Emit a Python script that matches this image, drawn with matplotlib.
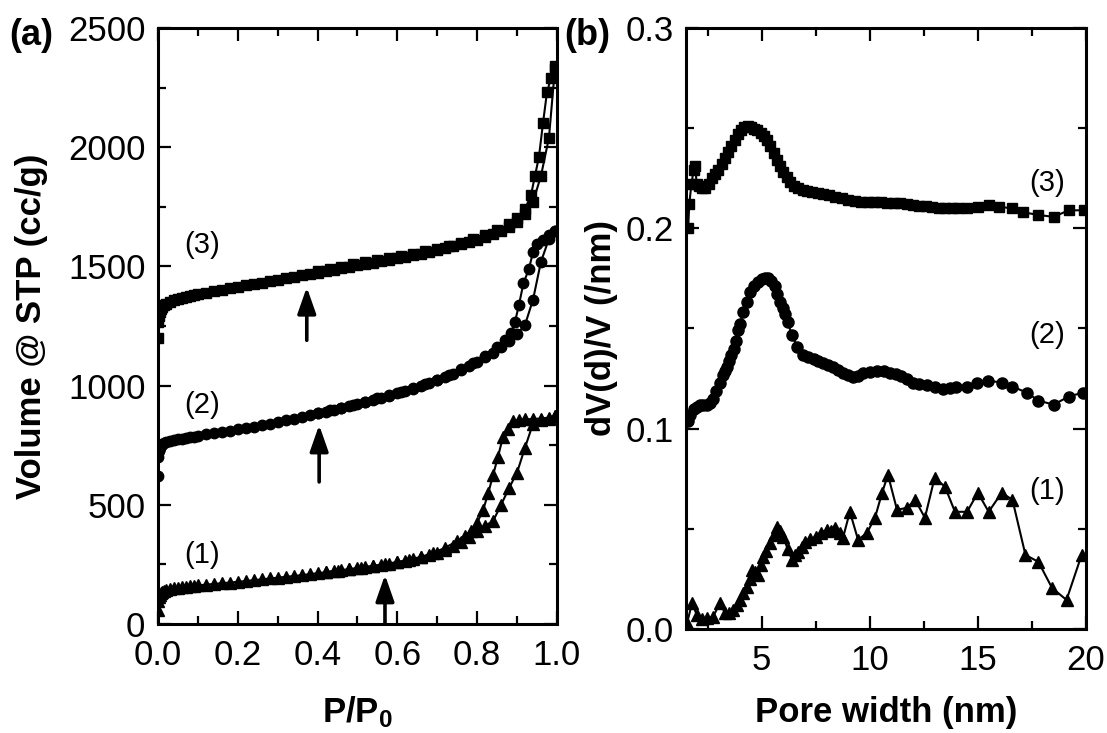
import matplotlib
matplotlib.use("Agg")
import matplotlib.pyplot as plt
from matplotlib.ticker import MultipleLocator, FormatStrFormatter

plt.rcParams.update(
    {
        "font.family": "Liberation Sans",
        "font.size": 25,
        "mathtext.fontset": "custom",
        "mathtext.rm": "Liberation Sans",
        "mathtext.bf": "Liberation Sans:bold",
        "axes.linewidth": 2.2,
    }
)

# ---- panel (a): N2 isotherms, P/P0 vs volume (cc/g) ----
P_ads = [0.0003, 0.001, 0.002, 0.004, 0.007, 0.01, 0.015, 0.02, 0.03, 0.04, 0.05, 0.06,
         0.07, 0.08, 0.09, 0.10, 0.12, 0.14, 0.16, 0.18, 0.20, 0.22, 0.24, 0.26, 0.28,
         0.30, 0.32, 0.34, 0.36, 0.38, 0.40, 0.42, 0.44, 0.46, 0.48, 0.50, 0.52, 0.54,
         0.56, 0.58, 0.60, 0.62, 0.64, 0.66, 0.68, 0.70, 0.72, 0.74, 0.76, 0.78, 0.80,
         0.82, 0.84, 0.86, 0.88, 0.90, 0.92, 0.94, 0.96, 0.98, 0.995]

V1_ads = [60, 95, 112, 122, 130, 135, 140, 144, 148, 151, 153, 155, 157, 159, 160, 162,
          165, 168, 171, 174, 177, 180, 184, 187, 191, 194, 198, 201, 205, 209, 213, 217,
          221, 225, 229, 234, 238, 243, 248, 253, 259, 265, 272, 280, 289, 299, 311, 326,
          344, 366, 392, 412, 432, 500, 570, 635, 740, 840, 856, 862, 872]
V2_ads = [620, 700, 725, 740, 748, 754, 759, 763, 768, 772, 775, 778, 781, 784, 786, 789,
          795, 800, 805, 810, 816, 822, 828, 835, 841, 848, 855, 862, 869, 876, 883, 891,
          898, 906, 914, 922, 930, 939, 948, 957, 967, 977, 987, 998, 1010, 1022, 1036,
          1050, 1065, 1081, 1099, 1118, 1138, 1160, 1185, 1215, 1255, 1360, 1520, 1615, 1650]
V3_ads = [1200, 1265, 1290, 1308, 1320, 1328, 1336, 1342, 1350, 1357, 1362, 1367, 1372,
          1376, 1380, 1384, 1390, 1396, 1402, 1408, 1414, 1420, 1426, 1432, 1438, 1444,
          1450, 1456, 1462, 1468, 1474, 1480, 1486, 1492, 1498, 1504, 1510, 1516, 1522,
          1528, 1534, 1540, 1547, 1554, 1561, 1568, 1576, 1584, 1592, 1601, 1611, 1622,
          1634, 1648, 1665, 1688, 1720, 1770, 1880, 2040, 2330]

P1_des = [0.995, 0.98, 0.96, 0.94, 0.92, 0.905, 0.89, 0.878, 0.865, 0.852, 0.84, 0.828,
          0.815, 0.80, 0.785, 0.77, 0.75, 0.72, 0.69, 0.66, 0.63, 0.60, 0.57, 0.54, 0.51,
          0.48, 0.45, 0.42]
V1_des = [872, 866, 862, 860, 858, 856, 850, 820, 786, 700, 625, 550, 478, 425, 392, 370,
          348, 320, 298, 282, 270, 260, 252, 244, 237, 230, 224, 218]
P2_des = [0.995, 0.98, 0.965, 0.95, 0.94, 0.93, 0.916, 0.905, 0.895, 0.885, 0.87, 0.85,
          0.82, 0.79, 0.76, 0.73, 0.70, 0.67, 0.64, 0.61, 0.58, 0.55, 0.52, 0.49, 0.46,
          0.43, 0.40]
V2_des = [1650, 1630, 1610, 1595, 1560, 1490, 1429, 1340, 1268, 1220, 1190, 1160, 1125,
          1095, 1070, 1045, 1025, 1005, 990, 975, 960, 946, 933, 920, 908, 896, 886]
P3_des = [0.995, 0.985, 0.975, 0.965, 0.955, 0.945, 0.935, 0.92, 0.90, 0.88, 0.85, 0.82,
          0.79, 0.76, 0.73, 0.70, 0.67, 0.64, 0.61, 0.58, 0.55, 0.52, 0.49, 0.46, 0.43,
          0.40]
V3_des = [2340, 2290, 2230, 2100, 1960, 1880, 1800, 1740, 1705, 1676, 1652, 1632, 1614,
          1599, 1586, 1575, 1564, 1554, 1544, 1535, 1526, 1517, 1508, 1499, 1490, 1481]

# arrows marking the BET region (P/P0, tail, tip)
ARROW_P = [0.373, 0.404, 0.569]
ARROW_TAIL = [1190, 596, 0]
ARROW_TIP = [1413, 835, 206]

# ---- panel (b): pore size distributions ----
W1 = [1.55, 1.78, 2.0, 2.25, 2.47, 2.75, 3.07, 3.3, 3.5, 3.67, 3.85, 4.0, 4.15, 4.3, 4.45,
      4.55, 4.7, 4.83, 4.95, 5.06, 5.2, 5.38, 5.55, 5.7, 5.85, 6.0, 6.2, 6.4, 6.55, 6.7,
      6.85, 7.0, 7.25, 7.5, 7.75, 8.0, 8.2, 8.4, 8.6, 8.76, 9.08, 9.46, 9.87, 10.24,
      10.57, 10.84, 11.26, 11.72, 12.1, 12.55, 13.0, 13.48, 13.94, 14.5, 15.0, 15.5,
      16.1, 16.6, 17.2, 17.8, 18.43, 19.1, 19.8]
D1 = [0.003, 0.013, 0.007, 0.005, 0.0055, 0.006, 0.013, 0.008, 0.008, 0.0095, 0.012,
      0.0145, 0.018, 0.021, 0.025, 0.0295, 0.0285, 0.027, 0.032, 0.036, 0.039, 0.043,
      0.047, 0.051, 0.049, 0.046, 0.040, 0.0345, 0.037, 0.0385, 0.041, 0.0435, 0.045,
      0.046, 0.048, 0.0495, 0.049, 0.0505, 0.048, 0.0455, 0.0585, 0.0445, 0.048, 0.0555,
      0.068, 0.077, 0.0595, 0.0605, 0.0645, 0.0555, 0.0755, 0.071, 0.0585, 0.0585, 0.068,
      0.0585, 0.068, 0.0645, 0.037, 0.0335, 0.0205, 0.0145, 0.037]

W2 = [1.6, 1.7, 1.85, 2.0, 2.15, 2.3, 2.47, 2.6, 2.75, 2.9, 3.07, 3.2, 3.3, 3.4, 3.5,
      3.6, 3.7, 3.8, 3.9, 4.0, 4.14, 4.3, 4.46, 4.65, 4.83, 5.0, 5.15, 5.3, 5.45, 5.6,
      5.72, 5.85, 5.97, 6.08, 6.2, 6.4, 6.63, 6.9, 7.15, 7.4, 7.62, 7.84, 8.07, 8.3,
      8.53, 8.76, 9.0, 9.22, 9.46, 9.7, 10.0, 10.33, 10.65, 10.95, 11.2, 11.45, 11.7,
      12.0, 12.3, 12.65, 13.0, 13.4, 13.7, 14.0, 14.5, 14.96, 15.47, 16.1, 16.6, 17.26,
      17.8, 18.5, 19.2, 19.85]
D2 = [0.104, 0.107, 0.110, 0.111, 0.112, 0.112, 0.112, 0.113, 0.115, 0.119, 0.123, 0.127,
      0.129, 0.131, 0.134, 0.137, 0.140, 0.144, 0.149, 0.152, 0.158, 0.163, 0.168, 0.171,
      0.173, 0.1745, 0.175, 0.175, 0.1735, 0.171, 0.167, 0.163, 0.160, 0.157, 0.153,
      0.147, 0.141, 0.137, 0.136, 0.135, 0.134, 0.133, 0.132, 0.131, 0.1295, 0.128, 0.127,
      0.126, 0.1265, 0.128, 0.1285, 0.129, 0.1287, 0.128, 0.1275, 0.1265, 0.125, 0.123,
      0.1225, 0.122, 0.121, 0.120, 0.1205, 0.121, 0.121, 0.123, 0.124, 0.123, 0.121,
      0.118, 0.114, 0.112, 0.116, 0.118]

W3 = [1.6, 1.65, 1.75, 1.85, 1.92, 2.0, 2.1, 2.25, 2.4, 2.55, 2.7, 2.85, 3.0, 3.15, 3.3,
      3.45, 3.6, 3.75, 3.9, 4.05, 4.2, 4.35, 4.5, 4.65, 4.8, 4.95, 5.1, 5.25, 5.4, 5.55,
      5.7, 5.85, 6.0, 6.15, 6.3, 6.5, 6.7, 6.9, 7.1, 7.35, 7.6, 7.85, 8.1, 8.4, 8.7, 9.0,
      9.3, 9.6, 9.9, 10.2, 10.5, 10.8, 11.1, 11.4, 11.7, 12.0, 12.3, 12.6, 12.9, 13.2,
      13.5, 13.8, 14.1, 14.5, 15.0, 15.5, 16.0, 16.6, 17.1, 17.8, 18.5, 19.2, 19.9]
D3 = [0.200, 0.212, 0.222, 0.229, 0.231, 0.222, 0.221, 0.220, 0.220, 0.222, 0.225, 0.227,
      0.229, 0.232, 0.235, 0.238, 0.241, 0.244, 0.247, 0.249, 0.2505, 0.251, 0.2505,
      0.2495, 0.249, 0.2475, 0.246, 0.244, 0.241, 0.2375, 0.234, 0.231, 0.228, 0.2255,
      0.223, 0.221, 0.220, 0.2192, 0.2185, 0.218, 0.2175, 0.217, 0.2165, 0.2158, 0.215,
      0.2142, 0.2135, 0.2132, 0.213, 0.213, 0.213, 0.2128, 0.2127, 0.2125, 0.212, 0.2117,
      0.2113, 0.211, 0.2107, 0.2103, 0.210, 0.210, 0.210, 0.2102, 0.2107, 0.2117, 0.2107,
      0.210, 0.208, 0.2067, 0.2057, 0.209, 0.209]

SAMPLE_LABELS = ["(1)", "(2)", "(3)"]


def style_axes(ax, xmaj, xmin, ymaj, ymin):
    ax.xaxis.set_major_locator(MultipleLocator(xmaj))
    ax.xaxis.set_minor_locator(MultipleLocator(xmin))
    ax.yaxis.set_major_locator(MultipleLocator(ymaj))
    ax.yaxis.set_minor_locator(MultipleLocator(ymin))
    ax.tick_params(which="both", direction="in", top=True, right=True, width=1.6)
    ax.tick_params(which="major", length=9.5, pad=9)
    ax.tick_params(which="minor", length=5.5)
    ax.tick_params(axis="x", which="major", pad=11)


fig = plt.figure(figsize=(11.07, 7.33), dpi=100)
ax1 = fig.add_axes([0.1427, 0.1487, 0.3604, 0.8131])
ax2 = fig.add_axes([0.6197, 0.1419, 0.3613, 0.8199])

# panel (a)
line_kw = dict(color="black", lw=1.5, mec="black", mfc="black")
ax1.plot(P_ads, V1_ads, marker="^", ms=8, **line_kw)
ax1.plot(P1_des, V1_des, marker="^", ms=8, **line_kw)
ax1.plot(P_ads, V2_ads, marker="o", ms=7.5, **line_kw)
ax1.plot(P2_des, V2_des, marker="o", ms=7.5, **line_kw)
ax1.plot(P_ads, V3_ads, marker="s", ms=7, **line_kw)
ax1.plot(P3_des, V3_des, marker="s", ms=7, **line_kw)

for p, v0, v1 in zip(ARROW_P, ARROW_TAIL, ARROW_TIP):
    ax1.annotate(
        "",
        xy=(p, v1),
        xytext=(p, v0),
        arrowprops=dict(arrowstyle="-|>,head_width=0.28,head_length=0.8", lw=2.6,
                        color="black", shrinkA=0, shrinkB=0, mutation_scale=20),
    )

ax1.text(0.11, 290, SAMPLE_LABELS[0], fontsize=21, ha="center", va="center")
ax1.text(0.11, 918, SAMPLE_LABELS[1], fontsize=21, ha="center", va="center")
ax1.text(0.11, 1590, SAMPLE_LABELS[2], fontsize=21, ha="center", va="center")

ax1.set_xlim(0, 1.0)
ax1.set_ylim(0, 2500)
style_axes(ax1, 0.2, 0.1, 500, 250)
ax1.xaxis.set_major_formatter(FormatStrFormatter("%.1f"))
ax1.set_xlabel(r"$\mathbf{P/P_0}$", fontsize=25)
ax1.set_ylabel("Volume @ STP (cc/g)", fontweight="bold", fontsize=25)
ax1.xaxis.set_label_coords(0.5, -0.118)
ax1.yaxis.set_label_coords(-0.275, 0.5)

# panel (b)
ax2.plot(W1, D1, marker="^", ms=9, **line_kw)
ax2.plot(W2, D2, marker="o", ms=8, **line_kw)
ax2.plot(W3, D3, marker="s", ms=7, **line_kw)

ax2.text(18.2, 0.069, SAMPLE_LABELS[0], fontsize=21, ha="center", va="center")
ax2.text(18.2, 0.147, SAMPLE_LABELS[1], fontsize=21, ha="center", va="center")
ax2.text(18.2, 0.2227, SAMPLE_LABELS[2], fontsize=21, ha="center", va="center")

ax2.set_xlim(1.5, 20)
ax2.set_ylim(0, 0.3)
style_axes(ax2, 5, 2.5, 0.1, 0.05)
ax2.yaxis.set_major_formatter(FormatStrFormatter("%.1f"))
ax2.set_xlabel("Pore width (nm)", fontweight="bold", fontsize=25)
ax2.set_ylabel("dV(d)/V (/nm)", fontweight="bold", fontsize=25)
ax2.xaxis.set_label_coords(0.5, -0.112)
ax2.yaxis.set_label_coords(-0.17, 0.5)

fig.text(0.008, 0.975, "(a)", fontsize=26, fontweight="bold", va="top")
fig.text(0.510, 0.975, "(b)", fontsize=26, fontweight="bold", va="top")

fig.savefig("out.png", dpi=100)
